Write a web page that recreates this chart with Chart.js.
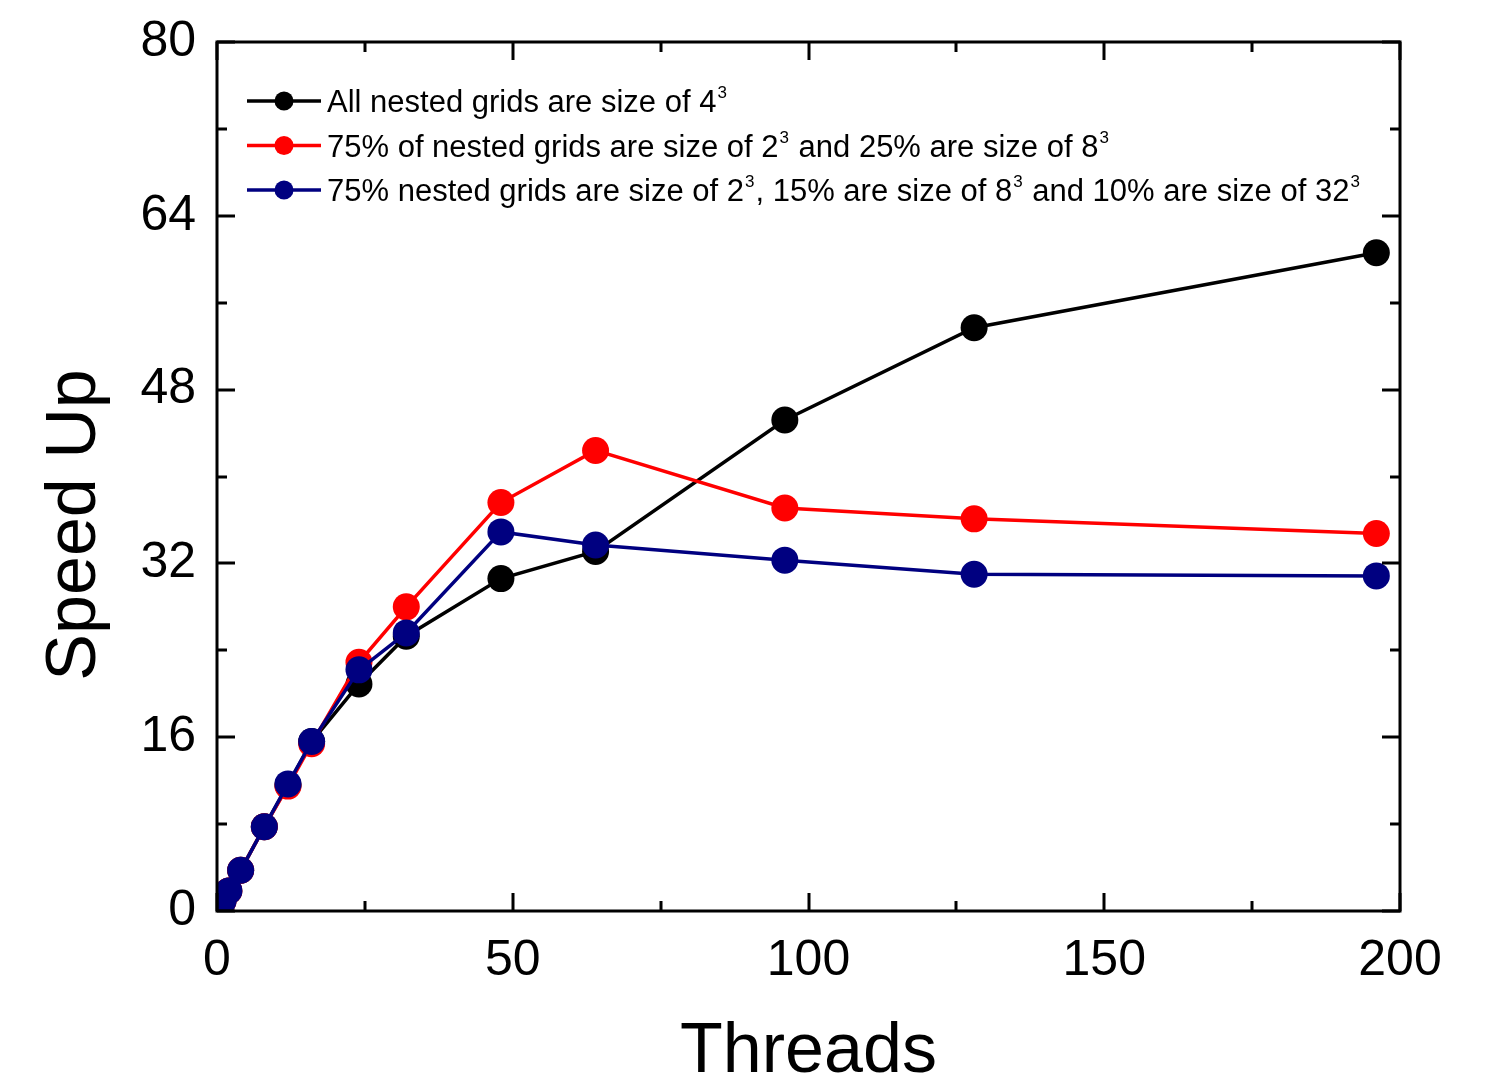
<!DOCTYPE html>
<html>
<head>
<meta charset="utf-8">
<title>Speed Up vs Threads</title>
<script src="https://cdn.jsdelivr.net/npm/chart.js@4.4.1/dist/chart.umd.min.js"></script>
<style>
  html, body { margin: 0; padding: 0; background: #fff; }
  #wrap { width: 1485px; height: 1088px; }
</style>
</head>
<body>
<div id="wrap"><canvas id="speedChart" width="1485" height="1088"></canvas></div>
<script>
/* =========================
   DATA
========================= */

const threads = [1, 2, 4, 8, 12, 16, 24, 32, 48, 64, 96, 128, 196];

const speedUniform4 = [0.9, 1.85, 3.75, 7.75, 11.6, 15.6, 20.9, 25.3, 30.6, 33.1, 45.2, 53.7, 60.6];
const speedMix2and8 = [0.9, 1.85, 3.75, 7.75, 11.5, 15.4, 22.9, 28.0, 37.6, 42.4, 37.1, 36.1, 34.75];
const speedMix2_8_32 = [0.9, 1.85, 3.75, 7.75, 11.7, 15.6, 22.2, 25.6, 34.9, 33.7, 32.3, 31.0, 30.85];

const seriesLabels = [
  "All nested grids are size of 4³",
  "75% of nested grids are size of 2³ and 25% are size of 8³",
  "75% nested grids are size of 2³, 15% are size of 8³ and 10% are size of 32³"
];
const seriesColors = ["#000000", "#ff0000", "#000080"];

const xTicks = [0, 50, 100, 150, 200];
const xMinorTicks = [25, 75, 125, 175];
const yTicks = [0, 16, 32, 48, 64, 80];
const yMinorTicks = [8, 24, 40, 56, 72];

const xTitle = "Threads";
const yTitle = "Speed Up";

const FONT = "'Liberation Sans', Arial, Helvetica, sans-serif";

/* =========================
   PLUGINS
========================= */

// box frame with inward ticks on all four sides (Origin style)
const frameTicks = {
  id: "frameTicks",
  afterDatasetsDraw(chart) {
    const { ctx, chartArea: a, scales: { x, y } } = chart;
    ctx.save();
    ctx.strokeStyle = "#000";
    ctx.lineWidth = 3;
    ctx.lineCap = "butt";
    ctx.strokeRect(a.left, a.top, a.right - a.left, a.bottom - a.top);

    const drawX = (vals, len) => {
      vals.forEach(v => {
        const px = Math.round(x.getPixelForValue(v));
        ctx.beginPath();
        ctx.moveTo(px, a.bottom); ctx.lineTo(px, a.bottom - len);
        ctx.moveTo(px, a.top); ctx.lineTo(px, a.top + len);
        ctx.stroke();
      });
    };
    const drawY = (vals, len) => {
      vals.forEach(v => {
        const py = Math.round(y.getPixelForValue(v));
        ctx.beginPath();
        ctx.moveTo(a.left, py); ctx.lineTo(a.left + len, py);
        ctx.moveTo(a.right, py); ctx.lineTo(a.right - len, py);
        ctx.stroke();
      });
    };
    drawX(xTicks, 18);
    drawX(xMinorTicks, 10);
    drawY(yTicks, 18);
    drawY(yMinorTicks, 10);
    ctx.restore();
  }
};

// y title sits a little below the axis centre in the original
const yTitlePlugin = {
  id: "yTitlePlugin",
  afterDraw(chart) {
    const { ctx } = chart;
    ctx.save();
    ctx.translate(95, 525);
    ctx.rotate(-Math.PI / 2);
    ctx.font = "70px " + FONT;
    ctx.fillStyle = "#000";
    ctx.textAlign = "center";
    ctx.textBaseline = "alphabetic";
    ctx.fillText(yTitle, 0, 0);
    ctx.restore();
  }
};

// legend with line+marker samples and superscript exponents
const supLegend = {
  id: "supLegend",
  afterDraw(chart) {
    const { ctx } = chart;
    ctx.save();
    chart.data.datasets.forEach((ds, i) => {
      const cy = 101 + i * 44.5;
      ctx.strokeStyle = ds.borderColor;
      ctx.lineWidth = 3.5;
      ctx.beginPath();
      ctx.moveTo(247, cy); ctx.lineTo(321, cy);
      ctx.stroke();
      ctx.fillStyle = ds.borderColor;
      ctx.beginPath();
      ctx.arc(284, cy, 9.5, 0, Math.PI * 2);
      ctx.fill();

      ctx.fillStyle = "#000";
      ctx.textBaseline = "alphabetic";
      ctx.textAlign = "left";
      const base = cy + 11;
      let tx = 327;
      const parts = ds.label.split("³");
      parts.forEach((p, k) => {
        ctx.font = "31px " + FONT;
        ctx.fillText(p, tx, base);
        tx += ctx.measureText(p).width;
        if (k < parts.length - 1) {
          ctx.font = "17px " + FONT;
          ctx.fillText("3", tx + 1, base - 14);
          tx += ctx.measureText("3").width + 2;
        }
      });
    });
    ctx.restore();
  }
};

/* =========================
   CHART
========================= */

const seriesValues = [speedUniform4, speedMix2and8, speedMix2_8_32];

const datasets = seriesValues.map((vals, i) => ({
  label: seriesLabels[i],
  data: threads.map((t, k) => ({ x: t, y: vals[k] })),
  borderColor: seriesColors[i],
  backgroundColor: seriesColors[i],
  pointBackgroundColor: seriesColors[i],
  pointBorderColor: seriesColors[i],
  borderWidth: 3.5,
  pointRadius: 13.5,
  pointBorderWidth: 0,
  tension: 0,
  clip: 0,
  order: 3 - i
}));

const ctx = document.getElementById("speedChart").getContext("2d");

new Chart(ctx, {
  type: "line",
  data: { datasets },
  options: {
    responsive: false,
    devicePixelRatio: 1,
    animation: false,
    layout: { padding: { top: 42, right: 85, left: 0, bottom: 0 } },
    plugins: {
      legend: { display: false },
      tooltip: { enabled: false }
    },
    scales: {
      x: {
        type: "linear",
        min: 0,
        max: 200,
        afterBuildTicks: s => { s.ticks = xTicks.map(v => ({ value: v })); },
        afterFit: s => { s.height = 1088 - 911; },
        grid: { display: false, drawTicks: false },
        border: { display: false },
        ticks: {
          color: "#000",
          padding: 20,
          maxRotation: 0,
          font: { family: FONT, size: 50 }
        },
        title: {
          display: true,
          text: xTitle,
          color: "#000",
          padding: 0,
          font: { family: FONT, size: 70, lineHeight: 1 }
        }
      },
      y: {
        type: "linear",
        min: 0,
        max: 80,
        afterBuildTicks: s => { s.ticks = yTicks.map(v => ({ value: v })); },
        afterFit: s => {
          s.width = 217;
          s.paddingTop = 0;
          s.paddingBottom = 0;
        },
        grid: { display: false, drawTicks: false },
        border: { display: false },
        ticks: {
          color: "#000",
          padding: 21,
          font: { family: FONT, size: 50 }
        },
        title: { display: false }
      }
    }
  },
  plugins: [frameTicks, yTitlePlugin, supLegend]
});
</script>
</body>
</html>
